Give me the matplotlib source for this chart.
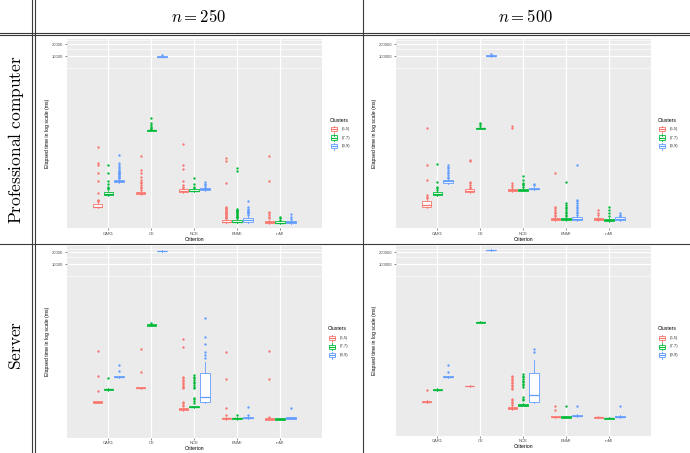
import numpy as np
import matplotlib
matplotlib.use('Agg')
import matplotlib.pyplot as plt
from matplotlib.lines import Line2D
from matplotlib.patches import Rectangle
from matplotlib.ticker import NullFormatter

plt.rcParams['mathtext.fontset'] = 'cm'
plt.rcParams['font.family'] = ['Liberation Sans', 'DejaVu Sans']

# === Data (elapsed time in ms) ===
criteria = ["CAR1", "CE", "NCE", "ENMI", "rnMI"]
clusters = ["(5,5)", "(7,7)", "(9,9)"]
cluster_colors = ["#F8766D", "#00BA38", "#619CFF"]
col_titles = [r"$n = 250$", r"$n = 500$"]
row_titles = [r"$\mathrm{Professional\ computer}$", r"$\mathrm{Server}$"]

# order: CAR1 (5,5),(7,7),(9,9), CE ..., NCE ..., ENMI ..., rnMI ...
pc250_q1 = [1.64, 3.4, 7.0, 3.6, 138, 9600, 4.0, 4.1, 4.5, 0.69, 0.69, 0.72, 0.65, 0.65, 0.67]
pc250_med = [1.70, 3.6, 7.4, 3.8, 142, 9800, 4.3, 4.3, 4.8, 0.72, 0.72, 0.77, 0.69, 0.68, 0.71]
pc250_q3 = [1.99, 3.9, 7.9, 4.0, 146, 10000, 4.7, 4.6, 5.1, 0.79, 0.81, 0.90, 0.74, 0.73, 0.76]
pc250_lo = [1.55, 3.2, 6.6, 3.4, 134, 9400, 3.8, 3.9, 4.3, 0.66, 0.66, 0.68, 0.62, 0.62, 0.64]
pc250_hi = [2.2, 4.3, 8.4, 4.3, 150, 10300, 5.0, 4.9, 5.3, 0.83, 0.84, 0.98, 0.78, 0.77, 0.80]
pc250_out = [
    [52, 21, 19, 11.7, 7.5, 3.7, 2.5, 2.4, 2.3],
    [19, 11.7, 7.6, 6.2, 5.4, 4.9, 4.6],
    [34, 21, 19, 17, 15.6, 14.1, 13.5, 12.8, 12.2, 11.7, 11.2, 10.6, 10.1, 9.6, 9.1, 8.7],
    [32, 14.1, 11.7, 9.6, 7.9, 7.2, 6.6, 5.9, 5.4, 4.9, 4.5],
    [279, 210, 190, 172, 160, 155],
    [10800],
    [62, 19, 14.7, 7.5, 5.9, 5.4, 5.1],
    [9.1, 6.3, 5.4, 5.0],
    [7.1, 6.3, 5.8, 5.4],
    [29, 24, 6.8, 1.70, 1.62, 1.55, 1.48, 1.41, 1.34, 1.27, 1.21, 1.16, 1.10, 1.05, 1.00, 0.95, 0.91, 0.87],
    [16, 13.3, 1.49, 1.42, 1.35, 1.29, 1.23, 1.17, 1.12, 1.06, 1.01, 0.96, 0.92, 0.88],
    [2.4, 1.70, 1.50, 1.41, 1.35, 1.27, 1.20, 1.16, 1.05],
    [32, 7.5, 1.27, 1.16, 1.05, 0.95, 0.87],
    [0.95, 0.87, 0.80],
    [1.10, 0.92, 0.84],
]

pc500_q1 = [17.0, 34, 68, 40, 1520, 100000, 41, 43, 46, 7.9, 7.9, 7.9, 7.7, 7.4, 7.9]
pc500_med = [19.1, 36, 73, 43, 1570, 103000, 44, 45, 48, 8.3, 8.3, 8.4, 8.2, 7.8, 8.5]
pc500_q3 = [23.0, 39, 79, 46, 1620, 106000, 48, 48, 51, 9.0, 9.0, 9.5, 9.0, 8.6, 9.2]
pc500_lo = [16, 32, 64, 38, 1470, 98000, 39, 41, 44, 7.5, 7.5, 7.5, 7.3, 7.0, 7.5]
pc500_hi = [26, 42, 84, 49, 1680, 109000, 51, 51, 54, 9.4, 9.4, 9.9, 9.4, 9.0, 9.6]
pc500_out = [
    [1620, 186, 79, 33, 30, 28],
    [200, 72, 54, 49, 45],
    [186, 170, 156, 140, 128, 117, 106, 96, 87],
    [252, 239, 72, 66, 59, 54, 49],
    [2170, 1980, 1790],
    [112000],
    [1820, 1620, 66, 59, 54],
    [98, 79, 68, 63, 58, 54],
    [63, 58],
    [121, 17, 15.5, 14.1, 12.7, 11.6, 10.5, 9.8],
    [70, 20.7, 18.8, 17, 15.5, 14.1, 12.7, 11.6, 10.5, 9.8],
    [186, 25, 23, 21, 18.7, 17, 15.5, 14, 12.7, 11.6, 10.5],
    [14.1, 11.6, 10.5],
    [17, 14.1, 11.6, 9.8],
    [11.6, 10.5, 9.8],
]

srv250_q1 = [2.7, 5.8, 12.1, 6.4, 262, 21000, 1.77, 2.07, 2.8, 1.04, 1.04, 1.08, 1.00, 1.00, 1.06]
srv250_med = [2.8, 6.0, 12.5, 6.6, 271, 21600, 1.87, 2.13, 3.9, 1.08, 1.08, 1.12, 1.04, 1.04, 1.10]
srv250_q3 = [2.95, 6.2, 12.9, 6.8, 280, 22200, 1.95, 2.2, 15.5, 1.12, 1.12, 1.17, 1.08, 1.07, 1.14]
srv250_lo = [2.6, 5.6, 11.7, 6.2, 255, 20500, 1.70, 2.0, 2.6, 1.0, 1.0, 1.04, 0.97, 0.97, 1.02]
srv250_hi = [3.1, 6.4, 13.3, 7.0, 288, 22800, 2.0, 2.3, 31, 1.16, 1.16, 1.21, 1.12, 1.11, 1.18]
srv250_out = [
    [58, 13.2, 5.4],
    [11.5],
    [25, 17.8],
    [64, 17],
    [299],
    [],
    [116, 72, 12.7, 11.6, 10.6, 9.7, 8.9, 8.1, 7.4, 6.8, 6.4, 2.9, 2.6, 2.4, 2.2],
    [14, 12.8, 11.6, 10.5, 9.5, 8.6, 7.8, 7.1, 6.4, 3.7, 3.3, 3.0, 2.7],
    [417, 135, 88, 56, 46, 38],
    [54, 11.1, 1.95, 1.31],
    [1.3],
    [2.07, 1.31],
    [58, 11.1, 1.19],
    [],
    [1.95],
]

srv500_q1 = [28, 57, 121, 71, 3080, 224000, 18.7, 23, 29, 11.5, 11.3, 12.2, 11.1, 10.6, 11.5]
srv500_med = [29, 59, 125, 73, 3170, 229000, 19.7, 24, 43, 11.9, 11.7, 12.6, 11.5, 11.0, 11.9]
srv500_q3 = [30, 61, 129, 75, 3260, 234000, 20.7, 25, 161, 12.3, 12.1, 13.2, 11.9, 11.3, 12.4]
srv500_lo = [27, 55, 117, 69, 3000, 219000, 17.8, 22, 27, 11.1, 10.9, 11.8, 10.7, 10.2, 11.1]
srv500_hi = [31, 63, 133, 77, 3340, 239000, 21.7, 26, 340, 12.7, 12.5, 13.7, 12.3, 11.7, 12.9]
srv500_out = [
    [57],
    [],
    [250, 164],
    [],
    [],
    [],
    [132, 121, 111, 102, 94, 86, 79, 72, 66, 61, 34, 31, 28, 26, 24],
    [146, 134, 122, 111, 101, 92, 84, 77, 70, 37, 34, 32],
    [650, 560],
    [22, 17.3],
    [22],
    [23],
    [],
    [],
    [22],
]

W, H = 690, 453
fig = plt.figure(figsize=(W / 100, H / 100), dpi=100)


def fx(x):
    return x / W


def fy(y):
    return 1 - y / H


def draw_panel(rect, q1, med, q3, lo, hi, out, ylim, majors, minors, leg):
    x0, y0, x1, y1 = rect
    ax = fig.add_axes([fx(x0), fy(y1), (x1 - x0) / W, (y1 - y0) / H])
    ax.set_facecolor('#EBEBEB')
    ax.set_yscale('log')
    for k, col in enumerate(cluster_colors):
        idx = [c * 3 + k for c in range(len(criteria))]
        stats = [dict(q1=q1[i], med=med[i], q3=q3[i], whislo=lo[i], whishi=hi[i],
                      fliers=out[i]) for i in idx]
        pos = np.arange(1, len(criteria) + 1) + (k - 1) * 0.25
        ax.bxp(stats, positions=pos, widths=0.22, patch_artist=True, showcaps=False,
               manage_ticks=False,
               boxprops=dict(facecolor='white', edgecolor=col, linewidth=0.6),
               medianprops=dict(color=col, linewidth=0.9),
               whiskerprops=dict(color=col, linewidth=0.6),
               flierprops=dict(marker='o', markersize=1.7, markerfacecolor=col,
                               markeredgecolor='none'))
    ax.set_xlim(0.03, 5.97)
    ax.set_ylim(*ylim)
    ax.set_xticks(range(1, len(criteria) + 1))
    ax.set_xticklabels(criteria)
    ax.set_yticks(majors)
    ax.set_yticklabels([str(m) for m in majors])
    ax.set_yticks(minors, minor=True)
    ax.yaxis.set_minor_formatter(NullFormatter())
    ax.set_axisbelow(True)
    ax.grid(which='major', color='white', linewidth=0.9)
    ax.grid(which='minor', axis='y', color='white', linewidth=0.45)
    for s in ax.spines.values():
        s.set_visible(False)
    ax.tick_params(which='major', length=1.5, width=0.4, color='#333333',
                   labelsize=3.0, labelcolor='#4D4D4D', pad=1)
    ax.tick_params(which='minor', length=0)
    ax.set_xlabel('Criterion', fontsize=3.7, labelpad=0.8)
    ax.set_ylabel('Elapsed time in log scale (ms)', fontsize=3.7, labelpad=1.5)

    # legend drawn by hand, ggplot style
    lx, ly = leg
    fig.text(fx(lx), fy(ly), 'Clusters', fontsize=3.7, ha='left', va='center')
    for k, (lab, col) in enumerate(zip(clusters, cluster_colors)):
        cy = ly + 9 + k * 8.5
        kx = lx + 4
        fig.add_artist(Rectangle((fx(kx - 3), fy(cy + 2)), 6 / W, 4 / H,
                                 transform=fig.transFigure, facecolor='white',
                                 edgecolor=col, linewidth=0.6))
        fig.add_artist(Line2D([fx(kx - 3), fx(kx + 3)], [fy(cy), fy(cy)],
                              transform=fig.transFigure, color=col, linewidth=0.8))
        for a, b in [(cy - 2, cy - 3.5), (cy + 2, cy + 3.5)]:
            fig.add_artist(Line2D([fx(kx), fx(kx)], [fy(a), fy(b)],
                                  transform=fig.transFigure, color=col, linewidth=0.6))
        fig.text(fx(lx + 11.5), fy(cy), lab, fontsize=3.1, color='#333333',
                 ha='left', va='center')
    return ax


draw_panel((66.7, 39.3, 321.7, 228.3), pc250_q1, pc250_med, pc250_q3, pc250_lo, pc250_hi,
           pc250_out, (0.489, 26700), [10000, 20000], [5000, 15000, 25000], (330, 120))
draw_panel((395.7, 39.3, 650.7, 228.3), pc500_q1, pc500_med, pc500_q3, pc500_lo, pc500_hi,
           pc500_out, (4.89, 267000), [100000, 200000], [50000, 150000, 250000], (658, 120))
draw_panel((66.7, 245.5, 321.7, 437.7), srv250_q1, srv250_med, srv250_q3, srv250_lo,
           srv250_hi, srv250_out, (0.343, 29900), [10000, 20000], [5000, 15000, 25000],
           (328, 329))
draw_panel((395.7, 245.5, 650.7, 435.7), srv500_q1, srv500_med, srv500_q3, srv500_lo,
           srv500_hi, srv500_out, (3.85, 299000), [100000, 200000], [50000, 150000, 250000],
           (658, 329))

# === Table frame ===
line_kw = dict(transform=fig.transFigure, color='#3a3a3a', linewidth=0.8)
for x in (32.3, 35.3, 362.5):
    fig.add_artist(Line2D([fx(x), fx(x)], [0, 1], **line_kw))
for y in (32.5, 35.0, 243.5):
    fig.add_artist(Line2D([0, 1], [fy(y), fy(y)], **line_kw))

fig.text(fx(198.5), fy(17), col_titles[0], fontsize=12, ha='center', va='center')
fig.text(fx(526), fy(17), col_titles[1], fontsize=12, ha='center', va='center')
fig.text(fx(16), fy(140), row_titles[0], fontsize=12.5, rotation=90, ha='center', va='center')
fig.text(fx(16), fy(345), row_titles[1], fontsize=12.5, rotation=90, ha='center', va='center')

fig.savefig('out.png', dpi=100)
